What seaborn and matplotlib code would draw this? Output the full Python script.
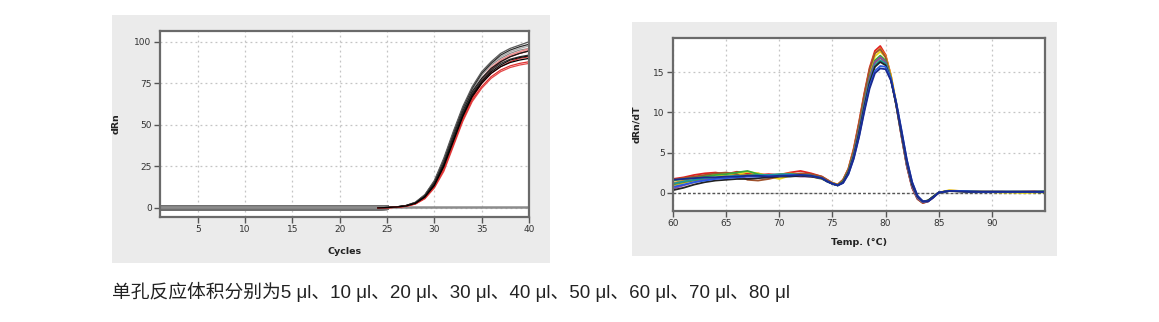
import matplotlib
matplotlib.use("Agg")
import matplotlib.pyplot as plt
import numpy as np
import pandas as pd
import seaborn as sns
from matplotlib.patches import Rectangle

sns.set_theme(style="white")
plt.rcParams['font.family'] = ['DejaVu Sans', 'Noto Sans CJK SC']

# ---------------- amplification plot data ----------------
CYCLES = list(range(1, 41))
BASELINE = [0.0] * 23          # cycles 1-23 (flat baseline)
THRESHOLD = 0.8
# values for cycles 24..40
AMP_K1 = [0, 0.2, 0.6, 1.4, 3.3, 7.8, 16, 29, 45, 60, 72, 81, 87, 92, 95, 97, 98.5]
AMP_K2 = [0, 0.2, 0.6, 1.3, 3.0, 7.2, 15, 27, 43, 58, 70, 78, 84, 88, 91, 93, 94.5]
AMP_K3 = [0, 0.2, 0.5, 1.2, 2.8, 6.8, 14, 26, 41, 56, 68, 76, 82, 86, 89, 90.5, 91.5]
AMP_K4 = [0, 0.2, 0.6, 1.4, 3.4, 8.0, 16.5, 30, 46, 61, 73, 82, 88, 93, 96, 98, 100]
AMP_K5 = [0, 0.2, 0.6, 1.3, 3.1, 7.5, 15.5, 28, 44, 59, 71, 80, 86, 90, 93, 95, 96]
AMP_K6 = [0, 0.2, 0.5, 1.2, 2.9, 7.0, 14.5, 26.5, 42, 57, 69, 77, 83, 87, 89.5, 91, 92]
AMP_K7 = [0, 0.2, 0.5, 1.1, 2.7, 6.5, 13.5, 25, 40, 55, 67, 75, 81, 85, 87.5, 89, 90]
AMP_K8 = [0, 0.2, 0.6, 1.4, 3.2, 7.6, 15.8, 29, 45, 60, 72, 81, 87, 91, 94, 96, 97.5]
AMP_R1 = [0, 0.1, 0.4, 1.0, 2.5, 6.0, 13, 24, 39, 54, 66, 75, 81, 85, 88, 90, 91]
AMP_R2 = [0, 0.1, 0.4, 1.0, 2.4, 5.8, 12.5, 23, 38, 53, 65, 73, 79, 83, 85.5, 87, 88]
AMP_R3 = [0, 0.1, 0.4, 1.1, 2.6, 6.3, 13.5, 25, 40, 55, 67, 76, 83, 88, 91, 93, 94.5]
AMP_R4 = [0, 0.1, 0.4, 1.1, 2.7, 6.5, 14, 26, 41, 56, 68, 77, 84, 89, 92, 94, 96]
AMP_R5 = [0, 0.1, 0.3, 0.9, 2.3, 5.5, 12, 22, 37, 52, 64, 72, 78, 82, 84.5, 86, 87]
AMP_R6 = [0, 0.2, 0.5, 1.2, 2.8, 6.8, 14.5, 27, 42, 57, 69, 78, 85, 89, 92, 94, 95]

AMP_SERIES = [
    ("K5", AMP_K5, "#8c8c8c"), ("K8", AMP_K8, "#a8a8a8"), ("R6", AMP_R6, "#f2a8a8"),
    ("K1", AMP_K1, "#2a2a2a"), ("R3", AMP_R3, "#cc2222"), ("K4", AMP_K4, "#5a5a5a"),
    ("R4", AMP_R4, "#ee8888"), ("K2", AMP_K2, "#1a1a1a"), ("R1", AMP_R1, "#dd2a2a"),
    ("K6", AMP_K6, "#333333"), ("R5", AMP_R5, "#e44848"), ("K3", AMP_K3, "#111111"),
    ("R2", AMP_R2, "#e03030"), ("K7", AMP_K7, "#000000"),
]

# ---------------- melt curve data ----------------
TEMPS = [60, 61, 62, 63, 64, 65, 66, 67, 68, 69, 70, 71, 72, 73, 74,
         74.5, 75, 75.5, 76, 76.5, 77, 77.5, 78, 78.5, 79, 79.5, 80, 80.5, 81,
         81.5, 82, 82.5, 83, 83.5, 84, 84.5, 85,
         86, 87, 88, 89, 90, 91, 92, 93, 94, 95]

MELT_RED = [1.7, 1.9, 2.2, 2.4, 2.5, 2.3, 2.6, 2.4, 2.2, 2.3, 2.2, 2.5, 2.7, 2.4, 2.0,
            1.6, 1.2, 1.0, 1.6, 3.0, 5.5, 8.8, 12.4, 15.6, 17.7, 18.3, 17.2, 14.6, 11.0,
            7.0, 3.3, 0.6, -0.8, -1.3, -1.1, -0.6, 0.0,
            0.25, 0.2, 0.15, 0.1, 0.1, 0.1, 0.05, 0.1, 0.15, 0.1]
MELT_ORANGE = [1.2, 1.5, 1.9, 2.1, 2.2, 2.4, 2.3, 2.2, 2.4, 2.1, 2.3, 2.4, 2.3, 2.2, 1.9,
               1.5, 1.2, 1.0, 1.5, 2.9, 5.3, 8.5, 12.1, 15.3, 17.4, 18.0, 17.1, 14.7, 11.2,
               7.2, 3.5, 0.8, -0.7, -1.2, -1.0, -0.5, 0.0,
               0.2, 0.2, 0.1, 0.1, 0.1, 0.05, 0.1, 0.1, 0.1, 0.05]
MELT_YELLOW = [0.8, 1.2, 1.6, 1.9, 2.1, 2.2, 2.3, 2.6, 2.4, 2.0, 1.7, 2.1, 2.3, 2.2, 1.9,
               1.5, 1.2, 1.0, 1.5, 2.8, 5.1, 8.2, 11.8, 15.0, 17.0, 17.6, 16.9, 14.6, 11.2,
               7.3, 3.6, 0.9, -0.6, -1.1, -1.0, -0.5, 0.0,
               0.3, 0.2, 0.1, 0.1, 0.05, 0.0, 0.0, -0.05, 0.0, 0.1]
MELT_BROWN = [1.6, 1.8, 2.0, 2.2, 2.4, 2.5, 2.3, 1.6, 1.5, 1.7, 2.0, 2.2, 2.4, 2.3, 2.0,
              1.6, 1.2, 1.0, 1.6, 2.9, 5.3, 8.6, 12.2, 15.4, 17.4, 17.9, 16.9, 14.4, 10.9,
              7.0, 3.3, 0.6, -0.8, -1.3, -1.1, -0.6, 0.0,
              0.2, 0.2, 0.1, 0.1, 0.1, 0.1, 0.1, 0.1, 0.1, 0.1]
MELT_GREEN = [1.5, 1.7, 1.8, 2.0, 2.2, 2.3, 2.5, 2.7, 2.3, 2.1, 2.2, 2.3, 2.2, 2.1, 1.8,
              1.4, 1.1, 0.9, 1.4, 2.7, 4.9, 7.9, 11.4, 14.5, 16.5, 17.1, 16.5, 14.3, 11.0,
              7.2, 3.5, 0.8, -0.7, -1.2, -1.0, -0.5, 0.0,
              0.2, 0.2, 0.15, 0.1, 0.1, 0.1, 0.1, 0.1, 0.1, 0.2]
MELT_OLIVE = [1.0, 1.3, 1.5, 1.7, 1.8, 1.9, 2.0, 2.2, 2.1, 2.0, 2.1, 2.2, 2.1, 2.0, 1.7,
              1.4, 1.1, 0.9, 1.3, 2.6, 4.8, 7.7, 11.1, 14.2, 16.2, 16.8, 16.3, 14.2, 11.0,
              7.3, 3.6, 0.9, -0.6, -1.1, -1.0, -0.5, 0.0,
              0.2, 0.15, 0.1, 0.1, 0.1, 0.1, 0.1, 0.1, 0.05, 0.0]
MELT_PURPLE = [0.5, 0.9, 1.3, 1.6, 1.8, 1.9, 2.0, 2.0, 2.1, 2.1, 2.2, 2.1, 2.0, 2.0, 1.8,
               1.4, 1.1, 0.9, 1.3, 2.6, 4.8, 7.8, 11.2, 14.3, 16.3, 16.9, 16.3, 14.2, 10.9,
               7.1, 3.4, 0.7, -0.7, -1.2, -1.0, -0.5, 0.0,
               0.2, 0.2, 0.1, 0.1, 0.1, 0.1, 0.1, 0.1, 0.1, 0.1]
MELT_TEAL = [1.1, 1.4, 1.6, 1.8, 1.9, 2.0, 2.1, 2.1, 2.2, 2.2, 2.3, 2.3, 2.2, 2.1, 1.8,
             1.4, 1.1, 0.9, 1.3, 2.5, 4.6, 7.5, 10.9, 13.9, 15.9, 16.5, 16.1, 14.2, 11.1,
             7.4, 3.8, 1.0, -0.5, -1.1, -1.0, -0.5, 0.0,
             0.2, 0.2, 0.1, 0.1, 0.1, 0.1, 0.1, 0.1, 0.1, 0.1]
MELT_BLACK = [0.3, 0.6, 1.0, 1.3, 1.5, 1.6, 1.7, 1.7, 1.8, 1.9, 2.0, 2.0, 2.1, 2.0, 1.8,
              1.4, 1.1, 0.9, 1.3, 2.5, 4.5, 7.4, 10.7, 13.7, 15.7, 16.3, 15.9, 14.1, 11.0,
              7.4, 3.8, 1.0, -0.5, -1.1, -1.0, -0.5, 0.0,
              0.2, 0.15, 0.1, 0.1, 0.1, 0.1, 0.1, 0.1, 0.1, 0.05]
MELT_BLUE = [0.7, 1.0, 1.3, 1.5, 1.7, 1.8, 1.9, 2.0, 2.0, 2.1, 2.1, 2.2, 2.2, 2.1, 1.8,
             1.4, 1.1, 0.9, 1.2, 2.3, 4.3, 7.0, 10.3, 13.3, 15.2, 15.8, 15.7, 14.2, 11.3,
             7.8, 4.1, 1.3, -0.4, -1.1, -1.1, -0.6, 0.0,
             0.2, 0.2, 0.15, 0.1, 0.1, 0.1, 0.1, 0.1, 0.1, 0.1]
MELT_NAVY = [1.6, 1.7, 1.8, 1.9, 1.9, 2.0, 2.0, 2.1, 2.1, 2.0, 2.1, 2.1, 2.2, 2.1, 1.8,
             1.4, 1.1, 0.9, 1.2, 2.3, 4.2, 6.9, 10.1, 13.0, 14.9, 15.5, 15.4, 14.0, 11.2,
             7.7, 4.1, 1.3, -0.4, -1.1, -1.1, -0.6, 0.0,
             0.2, 0.15, 0.1, 0.1, 0.1, 0.1, 0.1, 0.1, 0.1, 0.1]

MELT_SERIES = [
    ("red", MELT_RED, "#e02020"), ("orange", MELT_ORANGE, "#f08a1c"),
    ("yellow", MELT_YELLOW, "#e8d81a"), ("brown", MELT_BROWN, "#a0522d"),
    ("green", MELT_GREEN, "#3aa83a"), ("olive", MELT_OLIVE, "#7a8a20"),
    ("purple", MELT_PURPLE, "#8a4aa8"), ("teal", MELT_TEAL, "#1a9a9a"),
    ("black", MELT_BLACK, "#222222"), ("blue", MELT_BLUE, "#2a5ae0"),
    ("navy", MELT_NAVY, "#1a2a90"),
]

CAPTION = "单孔反应体积分别为5 μl、10 μl、20 μl、30 μl、40 μl、50 μl、60 μl、70 μl、80 μl"

# ---------------- figure ----------------
W, H = 1159, 322
fig = plt.figure(figsize=(W / 100, H / 100), dpi=100)
fig.patch.set_facecolor("white")


def px_rect(x0, y0, x1, y1):
    return [x0 / W, 1 - y1 / H, (x1 - x0) / W, (y1 - y0) / H]


# grey panels
for (x0, y0, x1, y1) in [(112, 15, 550, 263), (632, 22, 1057, 256)]:
    r = px_rect(x0, y0, x1, y1)
    fig.patches.append(Rectangle((r[0], r[1]), r[2], r[3], transform=fig.transFigure,
                                 facecolor="#ebebeb", edgecolor="none", zorder=-10))

ax1 = fig.add_axes(px_rect(160, 31, 529, 217))
ax2 = fig.add_axes(px_rect(673, 38, 1045, 211))
ax1.set_zorder(5)
ax2.set_zorder(5)


def style_axes(ax):
    ax.set_facecolor("white")
    ax.set_axisbelow(True)
    ax.grid(True, color="#c4c4c4", linestyle=(0, (1.5, 2.5)), linewidth=0.9)
    for s in ax.spines.values():
        s.set_visible(True)
        s.set_color("#6a6a6a")
        s.set_linewidth(1.6)
    ax.tick_params(bottom=True, left=True, direction="out", length=4, width=1,
                   color="#555555", labelsize=6.5, labelcolor="#333333", pad=2)


# amplification
frames = []
for name, vals, _ in AMP_SERIES:
    frames.append(pd.DataFrame({"cycle": CYCLES, "dRn": BASELINE + vals, "well": name}))
amp_df = pd.concat(frames, ignore_index=True)
amp_pal = {n: c for n, _, c in AMP_SERIES}

base_df = amp_df[amp_df["cycle"] <= 25]
sns.lineplot(data=base_df, x="cycle", y="dRn", units="well", estimator=None,
             color="#707070", linewidth=3.5, ax=ax1, legend=False)
ax1.axhline(THRESHOLD, color="#8c8c8c", linewidth=1.8, zorder=2)
rise_df = amp_df[amp_df["cycle"] >= 24]
sns.lineplot(data=rise_df, x="cycle", y="dRn", hue="well", palette=amp_pal,
             hue_order=[n for n, _, _ in AMP_SERIES], estimator=None,
             linewidth=0.9, ax=ax1, legend=False)

style_axes(ax1)
ax1.set_xlim(1, 40)
ax1.set_ylim(-5.5, 106.5)
ax1.set_xticks([5, 10, 15, 20, 25, 30, 35, 40])
ax1.set_yticks([0, 25, 50, 75, 100])
ax1.set_xlabel("Cycles", fontsize=6.8, fontweight="bold", color="#222222", labelpad=9)
ax1.set_ylabel("dRn", fontsize=6.8, fontweight="bold", color="#222222", labelpad=10)

# melt curve
frames = []
for name, vals, _ in MELT_SERIES:
    frames.append(pd.DataFrame({"temp": TEMPS, "deriv": vals, "well": name}))
melt_df = pd.concat(frames, ignore_index=True)
melt_pal = {n: c for n, _, c in MELT_SERIES}

ax2.axhline(0, color="#555555", linewidth=1.0, linestyle=(0, (2, 1.5)), zorder=1.5)
sns.lineplot(data=melt_df, x="temp", y="deriv", hue="well", palette=melt_pal,
             hue_order=[n for n, _, _ in MELT_SERIES], estimator=None,
             linewidth=1.3, ax=ax2, legend=False)

style_axes(ax2)
ax2.set_xlim(60, 95)
ax2.set_ylim(-2.3, 19.3)
ax2.set_xticks([60, 65, 70, 75, 80, 85, 90])
ax2.set_yticks([0, 5, 10, 15])
ax2.set_xlabel("Temp. (°C)", fontsize=6.8, fontweight="bold", color="#222222", labelpad=7)
ax2.set_ylabel("dRn/dT", fontsize=6.8, fontweight="bold", color="#222222", labelpad=9)

fig.text(112 / W, 1 - 292 / H, CAPTION, fontsize=13.5, color="#222222",
         family=["Liberation Sans", "Noto Sans CJK SC"], va="center", ha="left")

fig.savefig("out.png", dpi=100, facecolor="white")
